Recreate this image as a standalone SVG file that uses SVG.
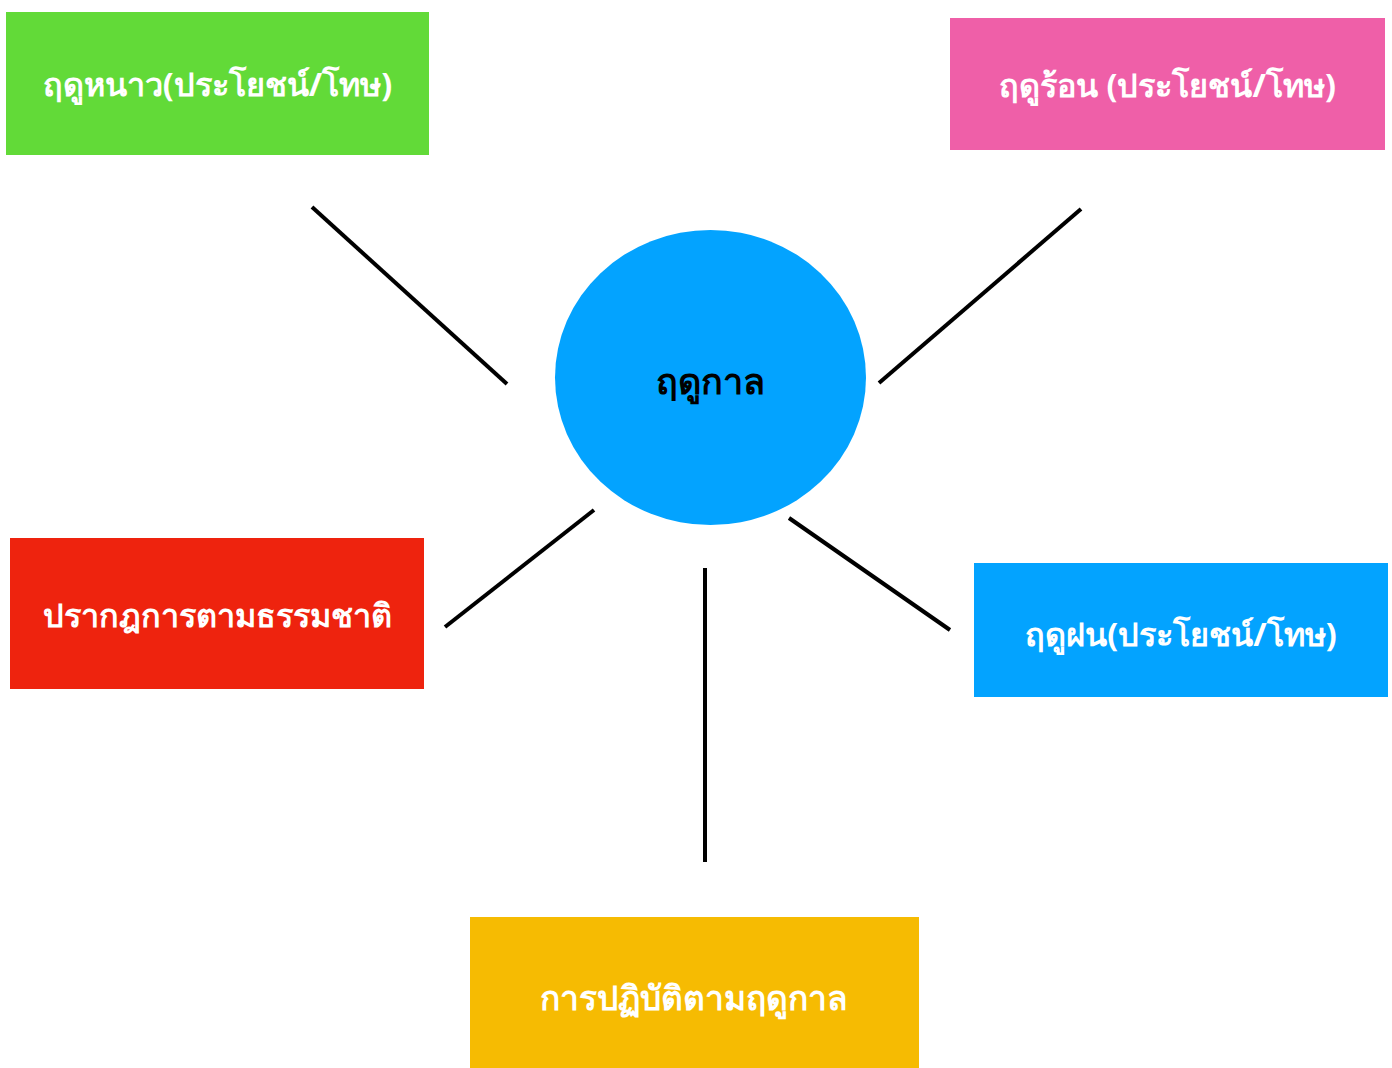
<svg xmlns="http://www.w3.org/2000/svg" width="1392" height="1068" viewBox="0 0 1392 1068">
<style>
.lbl{font-family:"Noto Sans","DejaVu Sans",sans-serif;font-weight:bold;font-size:32.4px;fill:#ffffff;text-anchor:middle;dominant-baseline:central}
.ctr{fill:#000000;font-size:36px}
.big{font-size:33.5px}
.conn line{stroke:#000000;stroke-width:4;fill:none}
</style>
<rect width="1392" height="1068" fill="#ffffff"/>
<g class="conn" id="connectors">
<line x1="312" y1="207" x2="507" y2="384"/>
<line x1="1081" y1="209" x2="879" y2="383"/>
<line x1="594" y1="510" x2="445" y2="627"/>
<line x1="789" y1="518" x2="950" y2="630"/>
<line x1="705" y1="568" x2="705" y2="862"/>
</g>
<g id="center">
<ellipse cx="710.5" cy="377.5" rx="155.5" ry="147.5" fill="#03a3ff"/>
<text class="lbl ctr" x="710" y="380">ฤดูกาล</text>
</g>
<g id="winter">
<rect x="6" y="12" width="423" height="143" fill="#62da38"/>
<text class="lbl" x="217.5" y="83">ฤดูหนาว(ประโยชน์/โทษ)</text>
</g>
<g id="summer">
<rect x="950" y="18" width="435" height="132" fill="#ef5fa8"/>
<text class="lbl" x="1167.5" y="84">ฤดูร้อน (ประโยชน์/โทษ)</text>
</g>
<g id="nature">
<rect x="10" y="538" width="414" height="151" fill="#ee230e"/>
<text class="lbl" x="217" y="614">ปรากฎการตามธรรมชาติ</text>
</g>
<g id="rainy">
<rect x="974" y="563" width="414" height="134" fill="#03a3ff"/>
<text class="lbl" x="1181" y="633">ฤดูฝน(ประโยชน์/โทษ)</text>
</g>
<g id="practice">
<rect x="470" y="917" width="449" height="151" fill="#f6bb02"/>
<text class="lbl big" x="694" y="997">การปฏิบัติตามฤดูกาล</text>
</g>
</svg>
